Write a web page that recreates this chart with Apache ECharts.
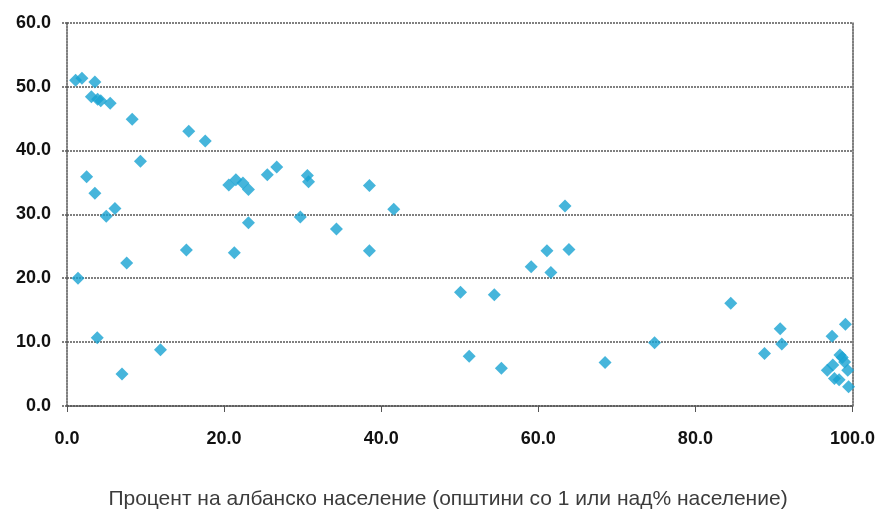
<!DOCTYPE html>
<html>
<head>
<meta charset="utf-8">
<script src="https://cdn.jsdelivr.net/npm/echarts@6/dist/echarts.min.js"></script>
<style>html,body{margin:0;padding:0;background:#fff}#c{width:878px;height:510px}</style>
</head>
<body>
<div id="c"></div>
<script>
// Percent of Albanian population (x) and value (y) per municipality
const percentAlbanian = [
  1.1, 1.9, 3.55, 3.1, 3.9, 4.3, 5.5, 8.3, 15.5, 17.6,
  9.35, 2.5, 3.55, 6.1, 5.0, 15.2, 7.6, 1.4, 3.85, 11.9,
  7.0, 20.6, 21.5, 22.4, 23.1, 25.5, 26.7, 30.6, 30.75, 38.5,
  41.6, 23.1, 29.7, 34.3, 21.3, 38.5, 50.1, 54.4, 51.2, 55.3,
  59.1, 61.1, 61.6, 63.4, 63.9, 68.5, 74.8, 84.5, 88.8, 90.8,
  91.0, 97.4, 99.1, 98.4, 96.8, 97.5, 97.7, 99.0, 99.4, 98.3,
  99.5, 98.7
];
const valuesY = [
  51.0, 51.3, 50.7, 48.4, 48.0, 47.8, 47.4, 44.9, 43.0, 41.5,
  38.3, 35.9, 33.3, 30.9, 29.7, 24.4, 22.4, 20.0, 10.7, 8.8,
  5.0, 34.6, 35.4, 34.9, 33.9, 36.2, 37.4, 36.1, 35.1, 34.5,
  30.8, 28.7, 29.6, 27.7, 24.0, 24.3, 17.8, 17.4, 7.8, 5.9,
  21.8, 24.3, 20.9, 31.3, 24.5, 6.8, 9.9, 16.1, 8.2, 12.1,
  9.7, 10.9, 12.8, 8.0, 5.6, 6.4, 4.3, 6.9, 5.6, 4.1,
  3.0, 7.6
];
const xTicks = { min: 0, max: 100, interval: 20 };
const yTicks = { min: 0, max: 60, interval: 10 };
const xTitle = 'Процент на албанско население (општини со 1 или над% население)';

const points = percentAlbanian.map((x, i) => [x, valuesY[i]]);
const dotted = { color: '#555', width: 1.5, type: [2, 1] };
const labelStyle = { color: '#111', fontSize: 18, fontWeight: 'bold', fontFamily: 'Liberation Sans, Arial, sans-serif', formatter: v => v.toFixed(1) };

const chart = echarts.init(document.getElementById('c'), null, { renderer: 'canvas' });
chart.setOption({
  animation: false,
  backgroundColor: '#fff',
  title: {
    text: xTitle,
    left: 443, top: 484, textAlign: 'center',
    textStyle: { color: '#3c3c3c', fontSize: 21, fontWeight: 'normal', fontFamily: 'Liberation Sans, Arial, sans-serif' }
  },
  grid: { left: 67, right: 23, top: 22.7, bottom: 104 },
  xAxis: {
    type: 'value', min: xTicks.min, max: xTicks.max, interval: xTicks.interval,
    axisLine: { show: true, lineStyle: dotted },
    axisTick: { show: true, length: 6, lineStyle: { color: '#555', width: 1 } },
    axisLabel: Object.assign({ margin: 24 }, labelStyle),
    splitLine: { show: false }
  },
  yAxis: [{
    type: 'value', min: yTicks.min, max: yTicks.max, interval: yTicks.interval,
    axisLine: { show: true, lineStyle: dotted },
    axisTick: { show: true, length: 5, lineStyle: dotted },
    axisLabel: Object.assign({ margin: 16 }, labelStyle),
    splitLine: { show: true, lineStyle: dotted }
  }, {
    type: 'value', min: yTicks.min, max: yTicks.max, interval: yTicks.interval,
    position: 'right',
    axisLine: { show: true, lineStyle: dotted },
    axisTick: { show: false },
    axisLabel: { show: false },
    splitLine: { show: false }
  }],
  series: [{
    type: 'scatter',
    symbol: 'diamond',
    symbolSize: 13,
    itemStyle: { color: '#18a2d2' },
    data: points
  }]
});
</script>
</body>
</html>
